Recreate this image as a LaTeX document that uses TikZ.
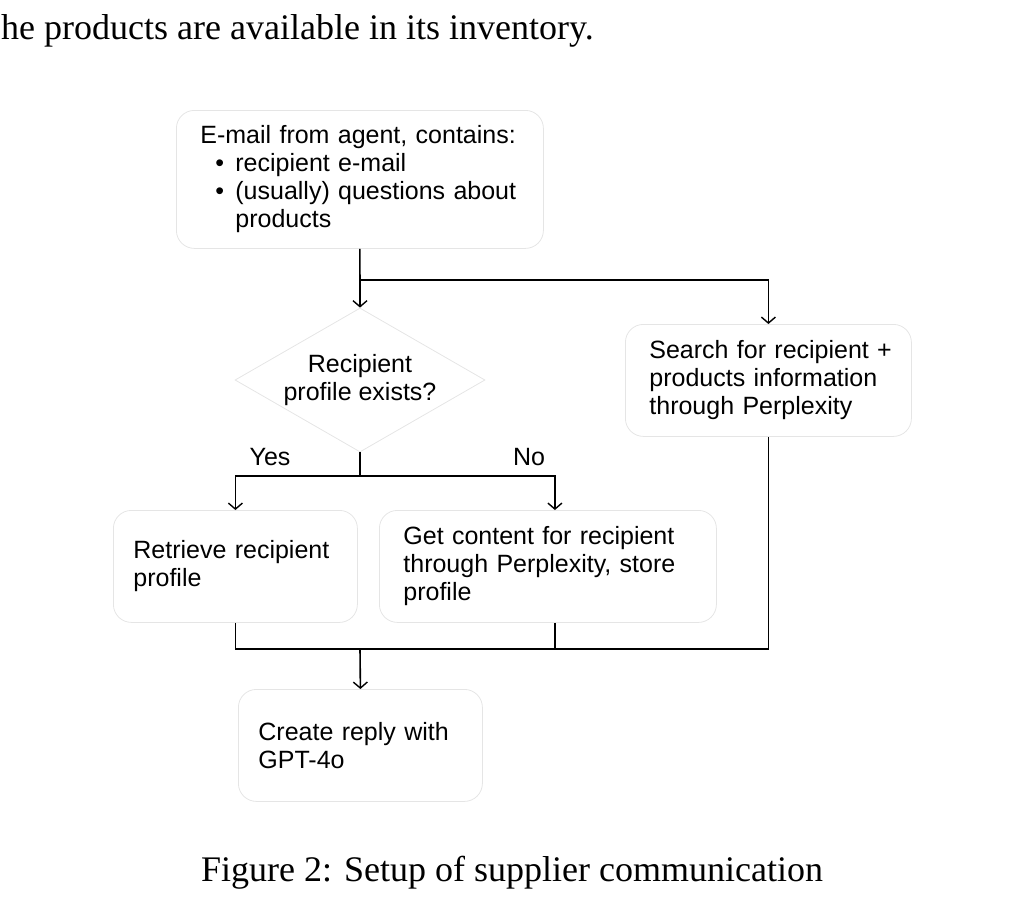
\documentclass[tikz,border=0pt]{standalone}
\usepackage{fontspec}
\setmainfont{Liberation Serif}
\newfontfamily\boxfont{Liberation Sans}
\usetikzlibrary{shapes.geometric,arrows.meta}

\tikzset{
  box/.style={draw=black!10, line width=0.8pt, rounded corners=18pt,
    inner xsep=24pt, inner ysep=0pt, anchor=north west, align=left,
    font=\boxfont\fontsize{25}{28}\selectfont},
  decision/.style={diamond, draw=black!10, line width=0.8pt, aspect=1.74,
    minimum width=250pt, minimum height=144pt, inner sep=0pt, align=center,
    font=\boxfont\fontsize{25}{28}\selectfont},
  flow/.style={line width=1.6pt, -{Straight Barb[length=6pt,width=14pt,line width=1.4pt]}},
  link/.style={line width=1.6pt},
  lbl/.style={font=\boxfont\fontsize{25}{28}\selectfont},
}

\begin{document}
\begin{tikzpicture}[x=1pt,y=-1pt]
\useasboundingbox (0,0) rectangle (1024,911);
% 上文残行
\node[anchor=base west, inner sep=0pt, font=\fontsize{36}{40}\selectfont] (prev) at (1,39) {he products are available in its inventory.};
% 代理邮件
\node[box, minimum width=367pt, minimum height=138pt, text width=319pt] (mail) at (176,110)
  {E-mail from agent, contains:\\
   \hspace*{15pt}\makebox[20pt][l]{\textbullet}recipient e-mail\\
   \hspace*{15pt}\makebox[20pt][l]{\textbullet}(usually) questions about\\
   \hspace*{35pt}products};
% 判断：档案是否存在
\node[decision] (check) at (360,380) {Recipient\\profile exists?};
% Perplexity 搜索
\node[box, minimum width=286pt, minimum height=112pt, text width=238pt] (search) at (625,324)
  {\mbox{Search for recipient +}\\products information\\through Perplexity};
% 读取档案
\node[box, minimum width=244pt, minimum height=112pt, text width=204pt, inner xsep=20pt] (retrieve) at (113,510)
  {Retrieve recipient\\profile};
% 获取内容并存储
\node[box, minimum width=337pt, minimum height=112pt, text width=289pt] (fetch) at (379,510)
  {Get content for recipient\\through Perplexity, store\\profile};
% 生成回复
\node[box, minimum width=244pt, minimum height=112pt, text width=204pt, inner xsep=20pt] (reply) at (238,689)
  {Create reply with\\GPT-4o};
% 分支标签
\node[lbl] (yes) at (270,457) {Yes};
\node[lbl] (no) at (529,457) {No};
% 分叉与汇合点
\coordinate (split) at (360,280);
\coordinate (fork) at (360,476);
\coordinate (merge) at (360,649);
% 连线
\draw[flow] (mail.south) -- (check.north);
\draw[flow] (split) -| (search.north);
\draw[link] (check.south) -- (fork);
\draw[flow] (fork) -| (retrieve.north);
\draw[flow] (fork) -| ([xshift=7pt]fetch.north);
\draw[link] (retrieve.south) |- (merge) -| (search.south);
\draw[link] ([xshift=7pt]fetch.south) -- ([xshift=7pt]fetch.south |- merge);
\draw[flow] (merge) -- (reply.north);
% 图题
\node[anchor=base, inner sep=0pt, font=\fontsize{36}{40}\selectfont] (caption) at (512,881) {Figure 2: Setup of supplier communication};
\end{tikzpicture}
\end{document}
